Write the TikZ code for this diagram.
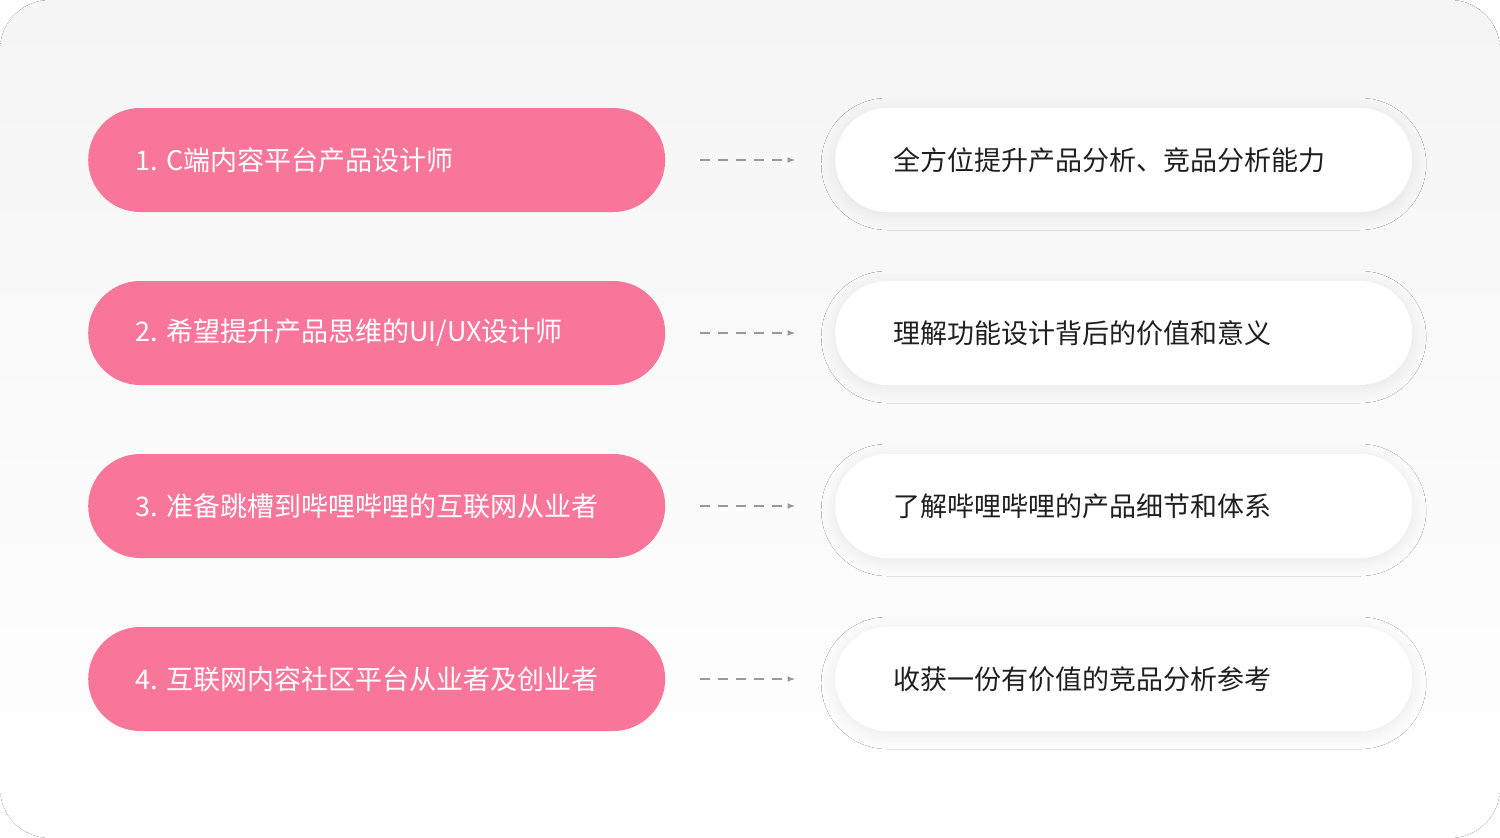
\documentclass[tikz,border=0pt]{standalone}
\usepackage{fontspec}
\setmainfont{Noto Sans CJK SC}
\usetikzlibrary{shadows.blur}
\definecolor{pinkbox}{HTML}{F7769A}
\definecolor{bgtop}{HTML}{F5F5F5}
\tikzset{
  leftbox/.style={draw=none,fill=pinkbox,rounded corners=52pt,minimum width=577pt,minimum height=104pt,anchor=west},
  rightbox/.style={draw=none,fill=white,rounded corners=52pt,minimum width=577pt,minimum height=104pt,anchor=west,blur shadow={shadow blur steps=8,shadow xshift=0pt,shadow yshift=-4pt,shadow opacity=8,shadow blur radius=14pt}},
  ltext/.style={anchor=west,text=white,font=\fontsize{27}{30}\selectfont},
  rtext/.style={anchor=west,text=black!88,font=\fontsize{27}{30}\selectfont},
  conn/.style={draw=gray!80,dashed,dash pattern=on 10pt off 8pt,line width=1.5pt,-latex}
}
\begin{document}
\begin{tikzpicture}[x=1pt,y=-1pt]
\useasboundingbox (0,0) rectangle (1500,838);
\fill[top color=bgtop,bottom color=white,rounded corners=50pt] (0,0) rectangle (1500,838);
\foreach \y/\l/\r [count=\i] in {160/{1. C端内容平台产品设计师}/{全方位提升产品分析、竞品分析能力},
  333/{2. 希望提升产品思维的UI/UX设计师}/{理解功能设计背后的价值和意义},
  506/{3. 准备跳槽到哔哩哔哩的互联网从业者}/{了解哔哩哔哩的产品细节和体系},
  679/{4. 互联网内容社区平台从业者及创业者}/{收获一份有价值的竞品分析参考}}{
  \node[leftbox] (L\i) at (88,\y) {};
  \node[rightbox] (R\i) at (835,\y) {};
  \node[ltext] (LT\i) at (132,\y) {\l};
  \node[rtext] (RT\i) at (890,\y) {\r};
  \coordinate (A\i) at (700,\y);
  \coordinate (B\i) at (795,\y);
  \draw[conn] (A\i) -- (B\i);
}
\end{tikzpicture}
\end{document}
